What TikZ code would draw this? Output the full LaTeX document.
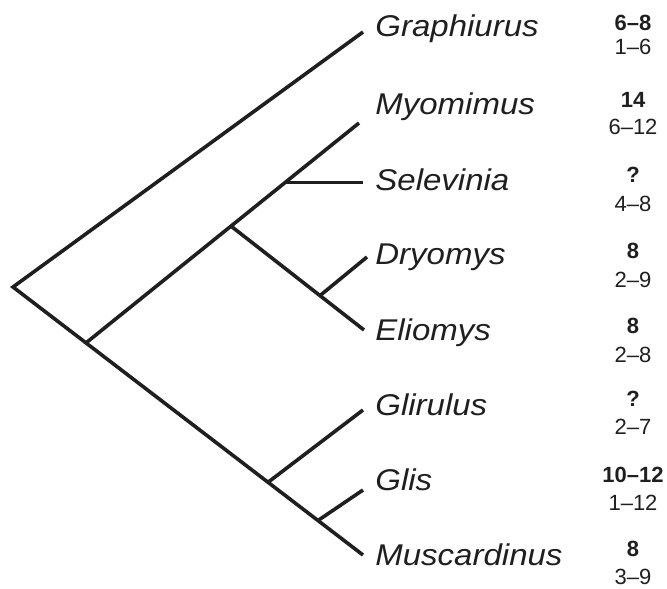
\documentclass[tikz,border=0pt]{standalone}
\usepackage{fontspec}
\setmainfont[Ligatures=TeX]{Liberation Sans}
\newfontfamily\taxfont[FakeStretch=1.1, Ligatures=TeX]{Liberation Sans}

\begin{document}
\begin{tikzpicture}[
      x=0.5pt, y=-0.5pt,
      branch/.style={line width=1.8pt, line cap=butt, line join=miter, draw=black!88},
      taxon/.style={anchor=base west, inner sep=0pt, text=black!88,
                    font=\fontsize{15}{17}\selectfont\taxfont\itshape},
      numtop/.style={anchor=base, inner sep=0pt, text=black!88,
                    font=\fontsize{11}{13}\selectfont\bfseries},
      numbot/.style={anchor=base, inner sep=0pt, text=black!88,
                    font=\fontsize{11}{13}\selectfont}
    ]
    \useasboundingbox (0,0) rectangle (667,588);

    % --- Branch points and tips ------------------------------------------------
    \coordinate (root) at (13,287);
    \coordinate (nA)   at (86,342.9);
    \coordinate (nB)   at (231,226.1);
    \coordinate (nSel) at (285,182.6);
    \coordinate (nDE)  at (320,295.6);
    \coordinate (nC)   at (268,482.3);
    \coordinate (nD)   at (318,520.5);

    \coordinate (tGra) at (363,32);
    \coordinate (tMyo) at (359,123);
    \coordinate (tSel) at (363,182.6);
    \coordinate (tDry) at (367,257);
    \coordinate (tEli) at (364,330);
    \coordinate (tGlr) at (363,410);
    \coordinate (tGli) at (363,490);
    \coordinate (tMus) at (363,555);

    \draw[branch] (tGra) -- (root) -- (tMus);
    \draw[branch] (nA) -- (tMyo);
    \draw[branch] (nSel) -- (tSel);
    \draw[branch] (nB) -- (tEli);
    \draw[branch] (nDE) -- (tDry);
    \draw[branch] (nC) -- (tGlr);
    \draw[branch] (nD) -- (tGli);

    % --- Genus names -------------------------------------------------------------
    \node[taxon] (gra) at (375,37)  {Graphiurus};
    \node[taxon] (myo) at (375,115) {Myomimus};
    \node[taxon] (sel) at (375,190) {Selevinia};
    \node[taxon] (dry) at (375,264) {Dryomys};
    \node[taxon] (eli) at (375,340) {Eliomys};
    \node[taxon] (glr) at (375,415) {Glirulus};
    \node[taxon] (gli) at (375,490) {Glis};
    \node[taxon] (mus) at (375,565) {Muscardinus};

    % --- Counts (bold) over ranges -------------------------------------------------
    \node[numtop] (graN) at (633,31)  {6--8};
    \node[numbot] (graR) at (633,55)  {1--6};
    \node[numtop] (myoN) at (633,108) {14};
    \node[numbot] (myoR) at (633,134) {6--12};
    \node[numtop] (selN) at (633,183) {?};
    \node[numbot] (selR) at (633,211) {4--8};
    \node[numtop] (dryN) at (633,258) {8};
    \node[numbot] (dryR) at (633,287) {2--9};
    \node[numtop] (eliN) at (633,333) {8};
    \node[numbot] (eliR) at (633,362) {2--8};
    \node[numtop] (glrN) at (633,406) {?};
    \node[numbot] (glrR) at (633,434) {2--7};
    \node[numtop] (gliN) at (633,482) {10--12};
    \node[numbot] (gliR) at (633,510) {1--12};
    \node[numtop] (musN) at (633,556) {8};
    \node[numbot] (musR) at (633,584) {3--9};
  \end{tikzpicture}
\end{document}
